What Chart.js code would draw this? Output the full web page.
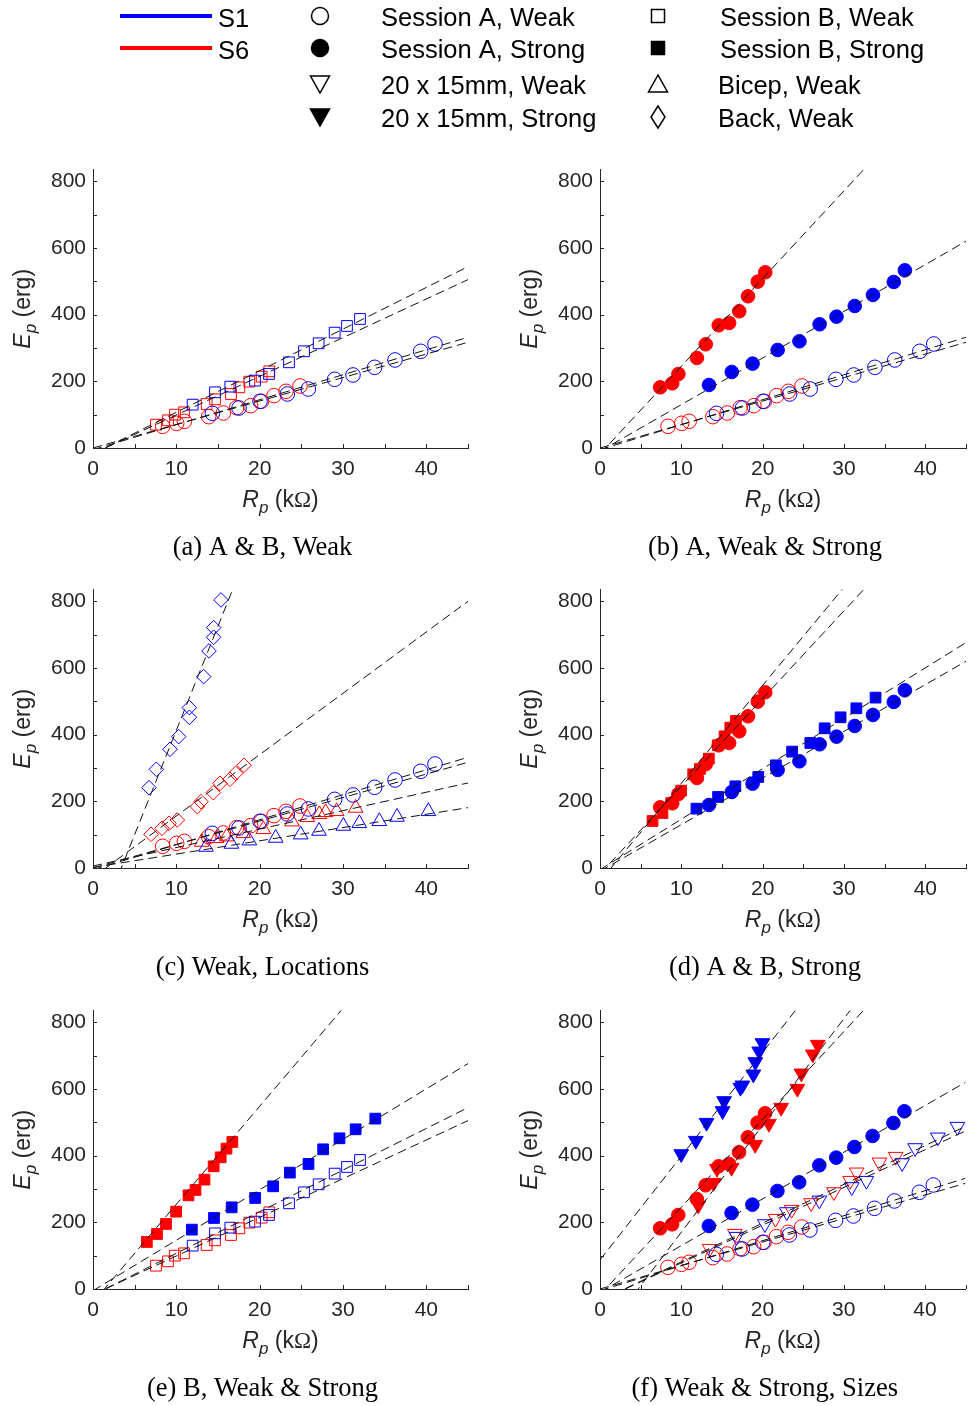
<!DOCTYPE html>
<html>
<head>
<meta charset="utf-8">
<script src="https://cdn.jsdelivr.net/npm/chart.js@4.4.1/dist/chart.umd.min.js"></script>
<style>
  body { margin: 0; background: #fff; width: 975px; height: 1406px; position: relative; overflow: hidden; }
  canvas { position: absolute; }
</style>
</head>
<body>
<canvas id="legend" width="975" height="140" style="left:0;top:0"></canvas>
<script>
// axes
const xTicks = [0, 5, 10, 15, 20, 25, 30, 35, 40, 45];
const xTickLabels = ['0', '', '10', '', '20', '', '30', '', '40', ''];
const yTicks = [0, 100, 200, 300, 400, 500, 600, 700, 800];
const yTickLabels = ['0', '', '200', '', '400', '', '600', '', '800'];
const fitX = [0, 45];

// R_p (kOhm) / E_p (erg), S1 = blue, S6 = red
const s1AWeakR = [14.32, 17.52, 20.04, 23.32, 25.84, 29.0, 31.2, 33.8, 36.24, 39.32, 41.04];
const s1AWeakE = [104, 120, 140, 162, 177, 206, 219, 242, 264, 290, 312];
const s6AWeakR = [8.36, 10.04, 10.96, 13.88, 15.64, 17.24, 18.92, 20.2, 21.72, 23.16, 24.84];
const s6AWeakE = [65, 74, 80, 94, 105, 121, 127, 140, 157, 170, 186];

const s1AStrongR = [13.4, 16.2, 18.76, 21.84, 24.52, 27.0, 29.08, 31.32, 33.56, 36.12, 37.48];
const s1AStrongE = [189, 228, 253, 294, 320, 371, 394, 426, 459, 498, 533];
const s6AStrongR = [7.4, 8.88, 9.64, 11.92, 13.0, 14.6, 15.88, 17.12, 18.2, 19.4, 20.32];
const s6AStrongE = [182, 194, 222, 270, 311, 368, 375, 410, 455, 499, 527];

const s1BWeakR = [11.96, 14.64, 16.48, 19.44, 21.12, 23.52, 25.32, 27.08, 29.0, 30.48, 32.04];
const s1BWeakE = [130, 167, 184, 202, 222, 257, 290, 314, 346, 366, 387];
const s6BWeakR = [7.56, 9.0, 9.84, 10.92, 13.64, 14.64, 16.56, 17.56, 18.76, 20.24, 21.16];
const s6BWeakE = [70, 83, 100, 107, 132, 146, 162, 182, 199, 214, 230];

const s1BStrongR = [11.86, 14.52, 16.64, 19.46, 21.62, 23.62, 25.86, 27.62, 29.58, 31.52, 33.88];
const s1BStrongE = [178, 213, 245, 273, 308, 349, 375, 419, 452, 479, 511];
const s6BStrongR = [6.46, 7.68, 8.76, 9.98, 11.46, 12.3, 13.38, 14.48, 15.32, 16.02, 16.72];
const s6BStrongE = [141, 165, 195, 232, 281, 297, 328, 368, 395, 421, 441];

const s1BicepR = [13.56, 16.6, 18.76, 21.92, 24.92, 27.12, 30.04, 31.96, 34.36, 36.48, 40.24];
const s1BicepE = [63, 72, 82, 90, 100, 111, 126, 134, 140, 153, 170];
const s6BicepR = [13.04, 14.84, 16.04, 18.04, 20.44, 23.88, 25.72, 27.16, 27.92, 29.24, 31.52];
const s6BicepE = [78, 89, 94, 104, 116, 139, 152, 161, 167, 170, 180];

const s1BackR = [6.72, 7.6, 9.24, 10.28, 11.56, 11.56, 13.28, 13.92, 14.48, 14.48, 15.36];
const s1BackE = [241, 296, 356, 394, 452, 481, 574, 651, 692, 721, 804];
const s6BackR = [6.96, 8.28, 9.12, 10.12, 12.52, 12.96, 14.44, 15.24, 16.44, 17.12, 18.12];
const s6BackE = [101, 119, 134, 144, 184, 199, 226, 254, 266, 284, 308];

const s1SmallWeakR = [16.8, 20.3, 23.0, 27.0, 31.0, 32.8, 37.2, 38.8, 41.6, 44.0];
const s1SmallWeakE = [157, 195, 231, 266, 306, 325, 378, 423, 455, 487];
const s6SmallWeakR = [13.5, 16.6, 21.6, 23.6, 26.0, 28.8, 30.8, 31.6, 34.4, 36.4];
const s6SmallWeakE = [121, 166, 211, 238, 258, 291, 325, 350, 380, 397];

const s1SmallStrongR = [10.0, 11.8, 13.12, 15.09, 15.28, 17.29, 17.53, 18.88, 19.12, 19.6, 20.0];
const s1SmallStrongE = [405, 445, 499, 534, 564, 604, 611, 644, 681, 713, 738];
const s6SmallStrongR = [12.1, 14.0, 14.4, 16.2, 19.1, 20.8, 22.3, 24.3, 24.8, 26.2, 26.8];
const s6SmallStrongE = [251, 319, 361, 364, 433, 496, 544, 601, 647, 704, 733];

// linear fits: E at R = 0 and at R = 45
const s1AWeakFit = [-5, 332];
const s6AWeakFit = [0, 317];
const s1AStrongFit = [-10, 620];
const s6AStrongFit = [-18, 1166];
const s1BWeakFit = [-18, 544];
const s6BWeakFit = [-17, 505];
const s1BStrongFit = [-5, 676];
const s6BStrongFit = [-40, 1283];
const s1BicepFit = [2, 181];
const s6BicepFit = [6, 255];
const s1BackFit = [-212, 2600];
const s6BackFit = [-28, 800];
const s1SmallWeakFit = [-35, 488];
const s6SmallWeakFit = [-35, 474];
const s1SmallStrongFit = [87, 1487];
const s6SmallStrongFit = [-150, 1290];

const BLUE = '#0000ff', RED = '#ff0000', AXIS = '#262626';
const SANS = "'Liberation Sans', Arial, sans-serif";
const SERIF = "'Liberation Serif', 'Times New Roman', serif";

const series = {
  s1AWeak: { r: s1AWeakR, e: s1AWeakE, fit: s1AWeakFit, color: BLUE, style: 'circle', fill: false, size: 7.3 },
  s6AWeak: { r: s6AWeakR, e: s6AWeakE, fit: s6AWeakFit, color: RED, style: 'circle', fill: false, size: 7.3 },
  s1AStrong: { r: s1AStrongR, e: s1AStrongE, fit: s1AStrongFit, color: BLUE, style: 'circle', fill: true, size: 6.8 },
  s6AStrong: { r: s6AStrongR, e: s6AStrongE, fit: s6AStrongFit, color: RED, style: 'circle', fill: true, size: 6.8 },
  s1BWeak: { r: s1BWeakR, e: s1BWeakE, fit: s1BWeakFit, color: BLUE, style: 'rect', fill: false, size: 7.6 },
  s6BWeak: { r: s6BWeakR, e: s6BWeakE, fit: s6BWeakFit, color: RED, style: 'rect', fill: false, size: 7.6 },
  s1BStrong: { r: s1BStrongR, e: s1BStrongE, fit: s1BStrongFit, color: BLUE, style: 'rect', fill: true, size: 7.6 },
  s6BStrong: { r: s6BStrongR, e: s6BStrongE, fit: s6BStrongFit, color: RED, style: 'rect', fill: true, size: 7.6 },
  s1Bicep: { r: s1BicepR, e: s1BicepE, fit: s1BicepFit, color: BLUE, style: 'triangle', fill: false, size: 8.5 },
  s6Bicep: { r: s6BicepR, e: s6BicepE, fit: s6BicepFit, color: RED, style: 'triangle', fill: false, size: 8.5 },
  s1Back: { r: s1BackR, e: s1BackE, fit: s1BackFit, color: BLUE, style: 'rectRot', fill: false, size: 7.3 },
  s6Back: { r: s6BackR, e: s6BackE, fit: s6BackFit, color: RED, style: 'rectRot', fill: false, size: 7.3 },
  s1SmallWeak: { r: s1SmallWeakR, e: s1SmallWeakE, fit: s1SmallWeakFit, color: BLUE, style: 'triangle', rot: 180, fill: false, size: 8.5 },
  s6SmallWeak: { r: s6SmallWeakR, e: s6SmallWeakE, fit: s6SmallWeakFit, color: RED, style: 'triangle', rot: 180, fill: false, size: 8.5 },
  s1SmallStrong: { r: s1SmallStrongR, e: s1SmallStrongE, fit: s1SmallStrongFit, color: BLUE, style: 'triangle', rot: 180, fill: true, size: 8.5 },
  s6SmallStrong: { r: s6SmallStrongR, e: s6SmallStrongE, fit: s6SmallStrongFit, color: RED, style: 'triangle', rot: 180, fill: true, size: 8.5 }
};

const panels = [
  { caption: '(a) A & B, Weak', keys: ['s1AWeak', 's6AWeak', 's1BWeak', 's6BWeak'] },
  { caption: '(b) A, Weak & Strong', keys: ['s1AWeak', 's6AWeak', 's1AStrong', 's6AStrong'] },
  { caption: '(c) Weak, Locations', keys: ['s1AWeak', 's6AWeak', 's1Bicep', 's6Bicep', 's1Back', 's6Back'] },
  { caption: '(d) A & B, Strong', keys: ['s1AStrong', 's6AStrong', 's1BStrong', 's6BStrong'] },
  { caption: '(e) B, Weak & Strong', keys: ['s1BWeak', 's6BWeak', 's1BStrong', 's6BStrong'] },
  { caption: '(f) Weak & Strong, Sizes', keys: ['s1AWeak', 's6AWeak', 's1AStrong', 's6AStrong', 's1SmallWeak', 's6SmallWeak', 's1SmallStrong', 's6SmallStrong'] }
];

const rowBottoms = [448, 868, 1289];
const colLefts = [0, 507];
const colWidths = [480, 468];
const CANVAS_H = 420, AREA_BOTTOM = 298, AREA_TOP = 18;

function drawRich(ctx, parts, x, y, rotate) {
  ctx.save();
  ctx.translate(x, y);
  if (rotate) ctx.rotate(-Math.PI / 2);
  let w = 0;
  parts.forEach(p => { ctx.font = p.font; w += ctx.measureText(p.t).width; });
  let cx = -w / 2;
  ctx.textBaseline = 'alphabetic';
  ctx.textAlign = 'left';
  parts.forEach(p => {
    ctx.font = p.font;
    ctx.fillText(p.t, cx, p.dy || 0);
    cx += ctx.measureText(p.t).width;
  });
  ctx.restore();
}

const decor = {
  id: 'decor',
  afterDraw(chart, args, opts) {
    const { ctx, chartArea: a, scales: { x, y } } = chart;
    ctx.save();
    ctx.strokeStyle = AXIS;
    ctx.lineWidth = 1;
    ctx.beginPath();
    x.ticks.forEach(t => {
      const px = Math.round(x.getPixelForValue(t.value)) + 0.5;
      ctx.moveTo(px, a.bottom); ctx.lineTo(px, a.bottom - 4);
    });
    y.ticks.forEach(t => {
      const py = Math.round(y.getPixelForValue(t.value)) + 0.5;
      ctx.moveTo(a.left, py); ctx.lineTo(a.left + 4, py);
    });
    ctx.stroke();

    ctx.fillStyle = AXIS;
    const midX = (a.left + a.right) / 2;
    drawRich(ctx, [
      { t: 'R', font: 'italic 23px ' + SANS },
      { t: 'p', font: 'italic 17px ' + SANS, dy: 6 },
      { t: ' (k', font: '23px ' + SANS },
      { t: 'Ω', font: '23px ' + SERIF },
      { t: ')', font: '23px ' + SANS }
    ], midX, a.bottom + 59, false);
    drawRich(ctx, [
      { t: 'E', font: 'italic 23px ' + SANS },
      { t: 'p', font: 'italic 17px ' + SANS, dy: 6 },
      { t: ' (erg)', font: '23px ' + SANS }
    ], a.left - 63, (a.top + a.bottom) / 2, true);

    ctx.fillStyle = '#000';
    ctx.font = '26.5px ' + SERIF;
    ctx.textAlign = 'center';
    ctx.textBaseline = 'alphabetic';
    ctx.fillText(opts.caption, midX - 18, a.bottom + 107);
    ctx.restore();
  }
};

panels.forEach((panel, i) => {
  const col = i % 2, row = Math.floor(i / 2);
  const canvas = document.createElement('canvas');
  canvas.width = colWidths[col];
  canvas.height = CANVAS_H;
  canvas.style.left = colLefts[col] + 'px';
  canvas.style.top = (rowBottoms[row] - AREA_BOTTOM) + 'px';
  document.body.appendChild(canvas);

  const datasets = [];
  panel.keys.forEach(k => {
    const s = series[k];
    datasets.push({
      data: fitX.map((xv, j) => ({ x: xv, y: s.fit[j] })),
      showLine: true,
      pointRadius: 0,
      borderColor: '#111',
      borderWidth: 1,
      borderDash: [9, 5],
      order: 0
    });
  });
  panel.keys.forEach(k => {
    const s = series[k];
    datasets.push({
      data: s.r.map((rv, j) => ({ x: rv, y: s.e[j] })),
      showLine: false,
      pointStyle: s.style,
      pointRotation: s.rot || 0,
      pointRadius: s.size,
      borderWidth: 1,
      borderColor: s.color,
      backgroundColor: s.fill ? s.color : 'rgba(0,0,0,0)',
      order: 1
    });
  });

  new Chart(canvas, {
    type: 'scatter',
    data: { datasets },
    options: {
      responsive: false,
      animation: false,
      devicePixelRatio: 1,
      events: [],
      layout: { padding: { top: AREA_TOP, right: col === 0 ? 12 : 0, bottom: 0, left: 0 } },
      plugins: { legend: { display: false }, tooltip: { enabled: false }, decor: { caption: panel.caption } },
      scales: {
        x: {
          type: 'linear', min: 0, max: 45,
          afterBuildTicks: s => { s.ticks = xTicks.map(v => ({ value: v })); },
          afterFit: s => { s.height = CANVAS_H - AREA_BOTTOM; },
          grid: { drawOnChartArea: false, drawTicks: false },
          border: { color: AXIS, width: 1 },
          ticks: {
            autoSkip: false, maxRotation: 0, padding: 9, color: AXIS,
            font: { family: SANS, size: 21 },
            callback: (v, idx) => xTickLabels[idx]
          }
        },
        y: {
          type: 'linear', min: 0, max: 835,
          afterBuildTicks: s => { s.ticks = yTicks.map(v => ({ value: v })); },
          afterFit: s => { s.width = 93; },
          grid: { drawOnChartArea: false, drawTicks: false },
          border: { color: AXIS, width: 1 },
          ticks: {
            autoSkip: false, padding: 7, color: AXIS,
            font: { family: SANS, size: 21 },
            callback: (v, idx) => yTickLabels[idx]
          }
        }
      }
    },
    plugins: [decor]
  });
});

// legend
(function () {
  const ctx = document.getElementById('legend').getContext('2d');
  ctx.lineWidth = 4;
  [[BLUE, 16, 'S1'], [RED, 48, 'S6']].forEach(([c, y, t]) => {
    ctx.strokeStyle = c;
    ctx.beginPath(); ctx.moveTo(120, y); ctx.lineTo(212, y); ctx.stroke();
    ctx.fillStyle = '#000';
    ctx.font = '25.5px ' + SANS;
    ctx.fillText(t, 218, y + 11);
  });

  function mark(kind, x, y, filled) {
    ctx.beginPath();
    if (kind === 'circle') ctx.arc(x, y, 8.5, 0, Math.PI * 2);
    else if (kind === 'square') ctx.rect(x - 6.5, y - 6.5, 13, 13);
    else if (kind === 'down') { ctx.moveTo(x - 9.5, y - 8); ctx.lineTo(x + 9.5, y - 8); ctx.lineTo(x, y + 9); ctx.closePath(); }
    else if (kind === 'up') { ctx.moveTo(x - 9.5, y + 8); ctx.lineTo(x + 9.5, y + 8); ctx.lineTo(x, y - 9); ctx.closePath(); }
    else if (kind === 'diamond') { ctx.moveTo(x, y - 11); ctx.lineTo(x + 7, y); ctx.lineTo(x, y + 11); ctx.lineTo(x - 7, y); ctx.closePath(); }
    ctx.lineWidth = 1.5;
    ctx.strokeStyle = '#000';
    ctx.fillStyle = '#000';
    if (filled) ctx.fill();
    ctx.stroke();
  }
  const rows = [
    ['circle', false, 16, 'Session A, Weak', 'square', false, 'Session B, Weak', 720],
    ['circle', true, 48, 'Session A, Strong', 'square', true, 'Session B, Strong', 720],
    ['down', false, 84, '20 x 15mm, Weak', 'up', false, 'Bicep, Weak', 718],
    ['down', true, 117, '20 x 15mm, Strong', 'diamond', false, 'Back, Weak', 718]
  ];
  rows.forEach(([k1, f1, y, t1, k2, f2, t2, x2]) => {
    mark(k1, 320, y, f1);
    mark(k2, 658, y, f2);
    ctx.fillStyle = '#000';
    ctx.font = '25.5px ' + SANS;
    ctx.fillText(t1, 381, y + 10);
    ctx.fillText(t2, x2, y + 10);
  });
})();
</script>
</body>
</html>
